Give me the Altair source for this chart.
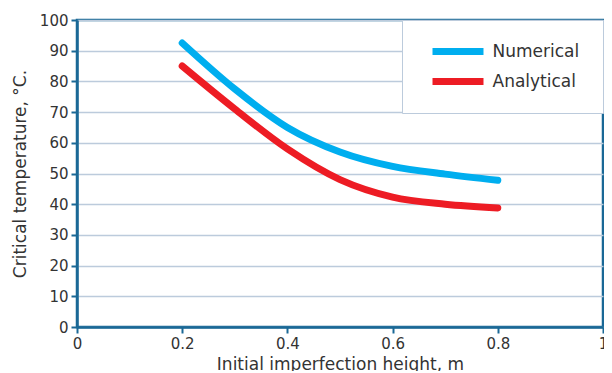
import altair as alt
import pandas as pd

x_vals = [0.2, 0.3, 0.4, 0.5, 0.6, 0.7, 0.8]
numerical = [92.5, 77.5, 65.0, 57.0, 52.3, 49.8, 47.8]
analytical = [85.0, 71.0, 58.0, 48.0, 42.3, 40.0, 38.8]
series = ["Numerical", "Analytical"]
colors = ["#00aeef", "#ed1c24"]
x_ticks = [0, 0.2, 0.4, 0.6, 0.8, 1]
y_ticks = list(range(0, 101, 10))

rows = []
for name, vals in zip(series, [numerical, analytical]):
    for xv, yv in zip(x_vals, vals):
        rows.append({"x": xv, "y": yv, "series": name})
df = pd.DataFrame(rows)

AX = "#1a6896"
GRID = "#bccbdc"
FONT = "DejaVu Sans"

chart = alt.Chart(df).mark_line(
    strokeWidth=7, strokeCap="round", strokeJoin="round", interpolate="monotone"
).encode(
    x=alt.X("x:Q", scale=alt.Scale(domain=[0, 1], nice=False),
            axis=alt.Axis(title="Initial imperfection height, m", values=x_ticks,
                          format="~g", grid=False)),
    y=alt.Y("y:Q", scale=alt.Scale(domain=[0, 100], nice=False),
            axis=alt.Axis(title="Critical temperature, °C.", values=y_ticks,
                          grid=True)),
    color=alt.Color("series:N", sort=series,
                    scale=alt.Scale(domain=series, range=colors),
                    legend=alt.Legend(title=None, orient="top-right", offset=0,
                                      symbolType="stroke", symbolSize=2600, symbolStrokeWidth=7,
                                      symbolOffset=4, clipHeight=17,
                                      labelFontSize=17, labelFont=FONT, labelColor="#333333",
                                      labelOffset=5.5, rowPadding=12,
                                      labelExpr="datum.label + '  '",
                                      fillColor="white", strokeColor=GRID, padding=23)),
).properties(
    width=526, height=307,
    autosize=alt.AutoSizeParams(type="none"),
    padding={"left": 69, "top": 12, "right": 1, "bottom": 44},
).configure_view(
    stroke=AX, strokeWidth=2.5
).configure_axis(
    domainColor=AX, domainWidth=2.5, tickColor=AX, tickWidth=2, tickSize=6,
    labelFont=FONT, labelFontSize=15, labelColor="#333333", labelPadding=3,
    titleFont=FONT, titleFontSize=17, titleColor="#333333", titleFontWeight="normal",
    gridColor=GRID, gridWidth=1.5,
).configure_axisY(
    titlePadding=10
).configure_axisX(
    titlePadding=5, labelFlush=False
)

chart.save("out.html", embed_options={"renderer": "svg", "actions": False})
